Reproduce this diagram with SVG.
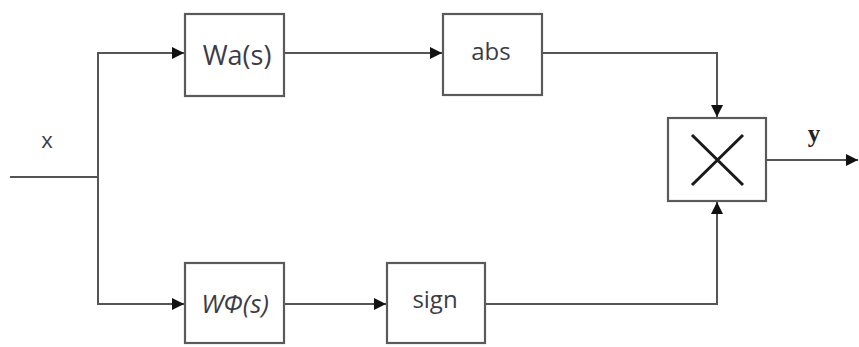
<svg xmlns="http://www.w3.org/2000/svg" width="859" height="347" viewBox="0 0 859 347">
<style>
.box{fill:#fff;stroke:#5a5a5a;stroke-width:2.2}
.ln{fill:none;stroke:#555;stroke-width:2}
.t{font-family:"Open Sans","Liberation Sans",sans-serif;fill:#3c3c46;text-anchor:middle}
</style>
<defs>
<marker id="ar" viewBox="0 0 10 10" refX="10" refY="5" markerWidth="12" markerHeight="12" markerUnits="userSpaceOnUse" orient="auto">
<path d="M0,0 L10,5 L0,10 z" fill="#111"/>
</marker>
</defs>
<g id="connectors">
<path class="ln" d="M10,177 H98"/>
<path class="ln" d="M98,177 V53 H184" marker-end="url(#ar)"/>
<path class="ln" d="M98,177 V304 H184" marker-end="url(#ar)"/>
<path class="ln" d="M284,53 H442" marker-end="url(#ar)"/>
<path class="ln" d="M284,304 H386" marker-end="url(#ar)"/>
<path class="ln" d="M542,53 H717 V117" marker-end="url(#ar)"/>
<path class="ln" d="M485,304 H717 V202" marker-end="url(#ar)"/>
<path class="ln" d="M766,160 H858" marker-end="url(#ar)"/>
</g>
<g id="label-x"><text class="t" x="47" y="148" font-size="22">x</text></g>
<g id="label-y"><text x="814" y="142" font-family="Liberation Serif,serif" font-weight="bold" font-size="25" fill="#222" text-anchor="middle">y</text></g>
<g id="Wa">
<rect class="box" x="185" y="14" width="99" height="82"/>
<text class="t" x="237" y="65" font-size="27">Wa(s)</text>
</g>
<g id="abs">
<rect class="box" x="443" y="14" width="99" height="81"/>
<text class="t" x="491" y="60" font-size="24">abs</text>
</g>
<g id="Wphi">
<rect class="box" x="185" y="263" width="99" height="80"/>
<text class="t" x="235" y="313" font-size="26" font-style="italic">WΦ(s)</text>
</g>
<g id="sign">
<rect class="box" x="387" y="263" width="98" height="80"/>
<text class="t" x="435" y="308" font-size="24">sign</text>
</g>
<g id="mult">
<rect class="box" x="668" y="118" width="98" height="83"/>
<path d="M692,135 L743,185 M743,135 L692,185" stroke="#1a1a1a" stroke-width="3" fill="none"/>
</g>
</svg>
